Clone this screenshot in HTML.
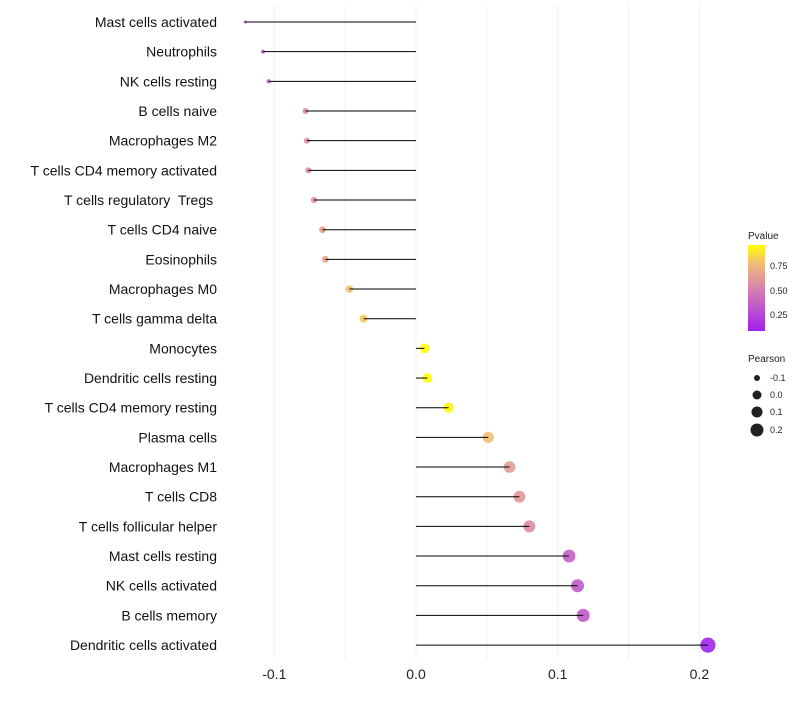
<!DOCTYPE html>
<html><head><meta charset="utf-8"><style>
body{margin:0;background:#fff;font-family:"Liberation Sans",sans-serif}
text{white-space:pre}
</style></head><body>
<svg id="chart" width="800" height="700" xmlns="http://www.w3.org/2000/svg">
<defs><linearGradient id="pg" x1="0" y1="1" x2="0" y2="0">
<stop offset="0" stop-color="#a020f0"/><stop offset="0.5" stop-color="#d884ac"/><stop offset="0.8" stop-color="#f2c070"/><stop offset="1" stop-color="#ffff00"/></linearGradient></defs>
<g id="grid"></g><g id="marks"></g><g id="labels"></g>
<g font-size="10" fill="#222">
<text x="748" y="239">Pvalue</text>
<rect x="748" y="245" width="17" height="86" fill="url(#pg)"/>
<text x="770" y="269" font-size="9">0.75</text><text x="770" y="294" font-size="9">0.50</text><text x="770" y="318" font-size="9">0.25</text>
</g>
<g font-size="10" fill="#222">
<text x="748" y="362">Pearson</text>
<circle cx="757" cy="378" r="3"/><text x="770" y="381" font-size="9">-0.1</text>
<circle cx="757" cy="395" r="4.5"/><text x="770" y="398" font-size="9">0.0</text>
<circle cx="757" cy="412" r="5.5"/><text x="770" y="415" font-size="9">0.1</text>
<circle cx="757" cy="430" r="6.5"/><text x="770" y="433" font-size="9">0.2</text>
</g>
</svg>
<script>
const categories=["Mast cells activated","Neutrophils","NK cells resting","B cells naive","Macrophages M2","T cells CD4 memory activated","T cells regulatory  Tregs ","T cells CD4 naive","Eosinophils","Macrophages M0","T cells gamma delta","Monocytes","Dendritic cells resting","T cells CD4 memory resting","Plasma cells","Macrophages M1","T cells CD8","T cells follicular helper","Mast cells resting","NK cells activated","B cells memory","Dendritic cells activated"];
const pearson=[-0.1206,-0.108,-0.104,-0.078,-0.077,-0.076,-0.072,-0.066,-0.064,-0.047,-0.037,0.006,0.008,0.023,0.051,0.066,0.073,0.080,0.108,0.114,0.118,0.206];
const pvalues=[0.3,0.35,0.38,0.55,0.55,0.55,0.57,0.62,0.63,0.75,0.78,0.95,0.95,0.9,0.75,0.6,0.58,0.52,0.35,0.32,0.32,0.1];
const xTicks=[-0.1,0,0.1,0.2];
const xTickLabels=["-0.1","0.0","0.1","0.2"];
const NS="http://www.w3.org/2000/svg";
const x=v=>416+v*1417;
const y=i=>22+i*29.67;
function mk(tag,attrs,parent){const e=document.createElementNS(NS,tag);for(const k in attrs)e.setAttribute(k,attrs[k]);parent.appendChild(e);return e;}
function lerp(a,b,t){return a.map((c,i)=>Math.round(c+(b[i]-c)*t));}
function col(p){const t=Math.max(0,Math.min(1,(p-0.08)/0.84));
 const st=[[0,[160,32,240]],[0.5,[216,132,172]],[0.8,[242,192,112]],[1,[255,255,0]]];
 for(let i=1;i<st.length;i++)if(t<=st[i][0]){const c=lerp(st[i-1][1],st[i][1],(t-st[i-1][0])/(st[i][0]-st[i-1][0]));return `rgb(${c})`;}
 return "rgb(255,255,0)";}
const grid=document.getElementById('grid'),marks=document.getElementById('marks'),labels=document.getElementById('labels');
for(let v=-0.1;v<=0.2001;v+=0.05){const l=mk('line',{x1:x(v),x2:x(v),y1:5,y2:660,stroke:'#f0f0f0','stroke-width':1},grid);
}
xTicks.forEach((v,i)=>{const t=mk('text',{x:x(v),y:679,'text-anchor':'middle','font-size':14,fill:'#222'},labels);t.textContent=xTickLabels[i];
});
categories.forEach((c,i)=>{
 const t=mk('text',{x:217,y:y(i)+5,'text-anchor':'end','font-size':14,fill:'#111'},labels);t.textContent=c;
 
 const v=pearson[i];const r=Math.sqrt(Math.max(1.5,2.25+170*(v+0.12)));
 const d=mk('circle',{cx:x(v),cy:y(i),r:r,fill:col(pvalues[i]),'fill-opacity':0.9},marks);
 
 const s=mk('line',{x1:x(0),x2:x(v),y1:y(i),y2:y(i),stroke:'#000','stroke-width':1},marks);
 
});
</script>
</body></html>
